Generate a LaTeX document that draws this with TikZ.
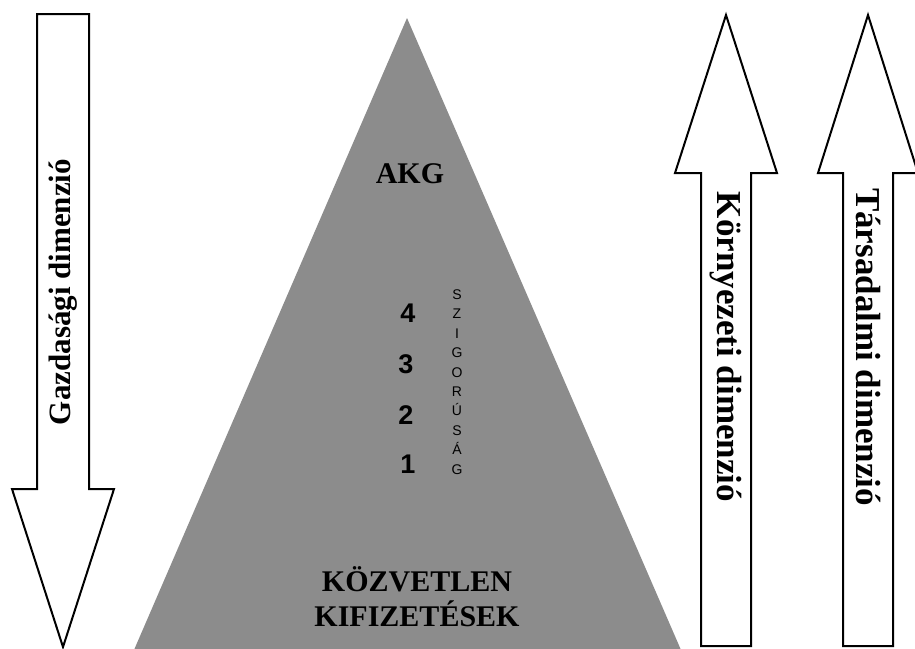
\documentclass[tikz,border=0pt]{standalone}
\usepackage{fontspec}
\setmainfont{Liberation Serif}
\setsansfont{Liberation Sans}
\usepackage{xcolor}
\usepackage{tikz}
\usetikzlibrary{positioning}
\definecolor{pyrgray}{RGB}{140,140,140}
\newcommand{\dimfont}[1]{\fontsize{#1}{#1}\selectfont\bfseries}
\tikzset{
  bigarrow/.style ={draw, line width=2pt, fill=white, line join=miter},
  pyramid/.style  ={fill=pyrgray},
  dimlbl/.style   ={font=\dimfont{35}, inner sep=0pt},
  toplbl/.style   ={font=\fontsize{30}{35}\selectfont\bfseries, align=center, inner sep=0pt},
  lvl/.style      ={font=\sffamily\bfseries\fontsize{27}{27}\selectfont, inner sep=0pt},
  strict/.style   ={font=\sffamily\fontsize{14}{19.4}\selectfont, align=center, inner sep=0pt},
}

\begin{document}
\begin{tikzpicture}[x=1pt, y=-1pt]
\useasboundingbox (0,0) rectangle (915,648);
% pyramid
\fill[pyramid] (407,18) -- (681,650) -- (134,650) -- cycle;
\node[toplbl] (akg) at (410,174) {AKG};
\node[toplbl] (direct) at (417,597) {KÖZVETLEN\\KIFIZETÉSEK};
\node[lvl] (l4) at (408,313) {4};
\node[lvl] (l3) at (406,364) {3};
\node[lvl] (l2) at (406,415) {2};
\node[lvl] (l1) at (408,464) {1};
\node[strict] (szig) at (457,382) {S\\Z\\I\\G\\O\\R\\Ú\\S\\Á\\G};
% economic dimension, pointing down
\draw[bigarrow] (37,14) -- (89,14) -- (89,489) -- (114,489) -- (63,647)
  -- (12,489) -- (37,489) -- cycle;
\node[dimlbl, font=\dimfont{31}, rotate=90] (econ) at (63,292) {Gazdasági dimenzió};
% environmental and social dimensions, pointing up
\draw[bigarrow] (701,646) -- (701,173) -- (675,173) -- (726,15) -- (777,173)
  -- (751,173) -- (751,646) -- cycle;
\draw[bigarrow] (843,646) -- (843,173) -- (818,173) -- (868,15) -- (918,173)
  -- (893,173) -- (893,646) -- cycle;
\node[dimlbl, rotate=-90] (env) at (726,347) {Környezeti dimenzió};
\node[dimlbl, rotate=-90] (soc) at (868,347) {Társadalmi dimenzió};
\end{tikzpicture}
\end{document}
